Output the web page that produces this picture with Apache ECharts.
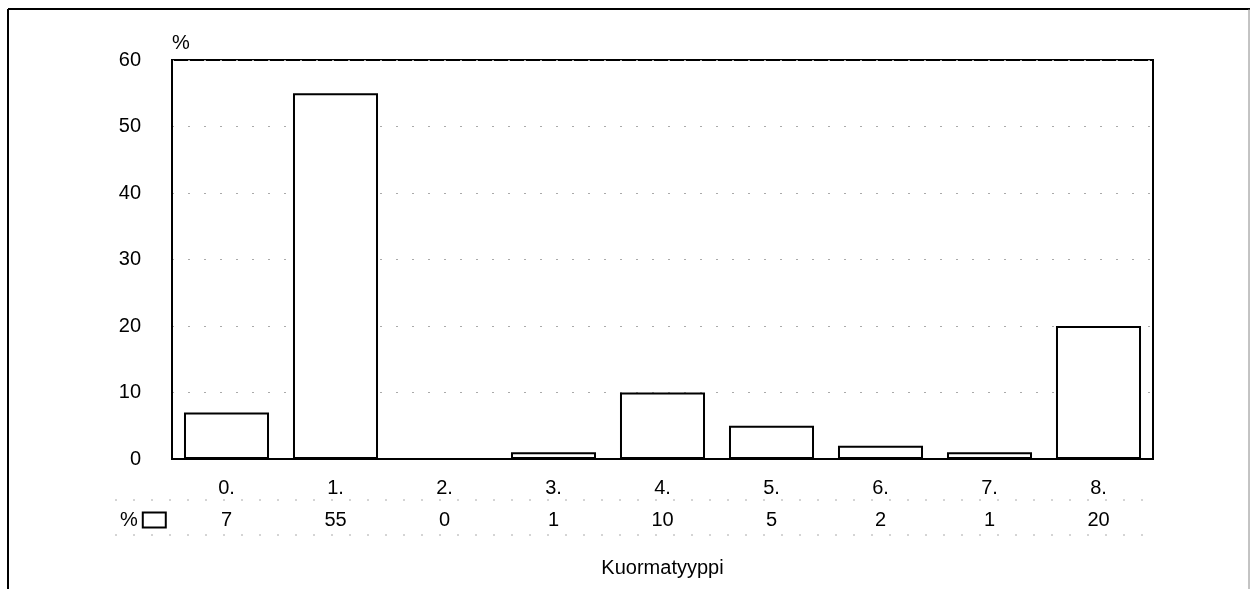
<!DOCTYPE html>
<html>
<head>
<meta charset="utf-8">
<script src="https://cdn.jsdelivr.net/npm/echarts@6/dist/echarts.min.js"></script>
<style>
html,body{margin:0;padding:0;background:#fff;}
#chart{width:1260px;height:589px;}
</style>
</head>
<body>
<div id="chart"></div>
<script>
var categories = ['0.', '1.', '2.', '3.', '4.', '5.', '6.', '7.', '8.'];
var percentValues = [7, 55, 0, 1, 10, 5, 2, 1, 20];
var seriesName = '%';
var xAxisTitle = 'Kuormatyyppi';
var yAxisTitle = '%';

var FONT = '"Liberation Sans", Arial, sans-serif';
var chart = echarts.init(document.getElementById('chart'), null, {renderer: 'canvas'});

chart.setOption({
  backgroundColor: '#fff',
  animation: false,
  graphic: [
    {type: 'line', shape: {x1: 8, y1: 9, x2: 1250, y2: 9}, style: {stroke: '#000', lineWidth: 2}},
    {type: 'line', shape: {x1: 8, y1: 9, x2: 8, y2: 589}, style: {stroke: '#000', lineWidth: 2}},
    {type: 'line', shape: {x1: 1249, y1: 9, x2: 1249, y2: 589}, style: {stroke: '#888', lineWidth: 1}},
    {type: 'line', shape: {x1: 115, y1: 500, x2: 1154, y2: 500}, style: {stroke: '#aaa', lineWidth: 1, lineDash: [2, 16]}},
    {type: 'line', shape: {x1: 115, y1: 535, x2: 1154, y2: 535}, style: {stroke: '#aaa', lineWidth: 1, lineDash: [2, 16]}}
  ],
  legend: {
    data: [seriesName],
    left: 120,
    top: 510,
    align: 'right',
    itemWidth: 23,
    itemHeight: 15,
    itemGap: 2,
    padding: 0,
    textStyle: {fontFamily: FONT, fontSize: 20, color: '#000', padding: [0, 0, 0, 0]},
    icon: 'rect'
  },
  grid: {
    left: 172, top: 60, right: 107, bottom: 130,
    show: true, borderColor: '#000', borderWidth: 2, backgroundColor: '#fff'
  },
  xAxis: {
    type: 'category',
    data: categories,
    name: xAxisTitle,
    nameLocation: 'middle',
    nameGap: 99,
    nameTextStyle: {fontFamily: FONT, fontSize: 20, color: '#000'},
    axisLine: {show: true, lineStyle: {color: '#000', width: 2}},
    axisTick: {show: false},
    axisLabel: {
      margin: 13,
      fontFamily: FONT,
      fontSize: 20,
      color: '#000',
      formatter: function (v, i) {
        return '{c|' + v + '}\n{v|' + percentValues[i] + '}';
      },
      rich: {
        c: {fontFamily: FONT, fontSize: 20, color: '#000', lineHeight: 32},
        v: {fontFamily: FONT, fontSize: 20, color: '#000', lineHeight: 32}
      }
    }
  },
  yAxis: {
    type: 'value',
    min: 0, max: 60, interval: 10,
    name: yAxisTitle,
    nameLocation: 'end',
    nameGap: 7,
    nameTextStyle: {fontFamily: FONT, fontSize: 20, color: '#000', align: 'left'},
    axisLine: {show: true, lineStyle: {color: '#000', width: 2}},
    axisTick: {show: false},
    axisLabel: {margin: 31, fontFamily: FONT, fontSize: 20, color: '#000'},
    splitLine: {show: true, lineStyle: {color: '#aaa', width: 1, type: [2, 14]}}
  },
  series: [{
    name: seriesName,
    type: 'bar',
    data: percentValues,
    barCategoryGap: '22%',
    itemStyle: {color: '#fff', borderColor: '#000', borderWidth: 2}
  }]
});
</script>
</body>
</html>
